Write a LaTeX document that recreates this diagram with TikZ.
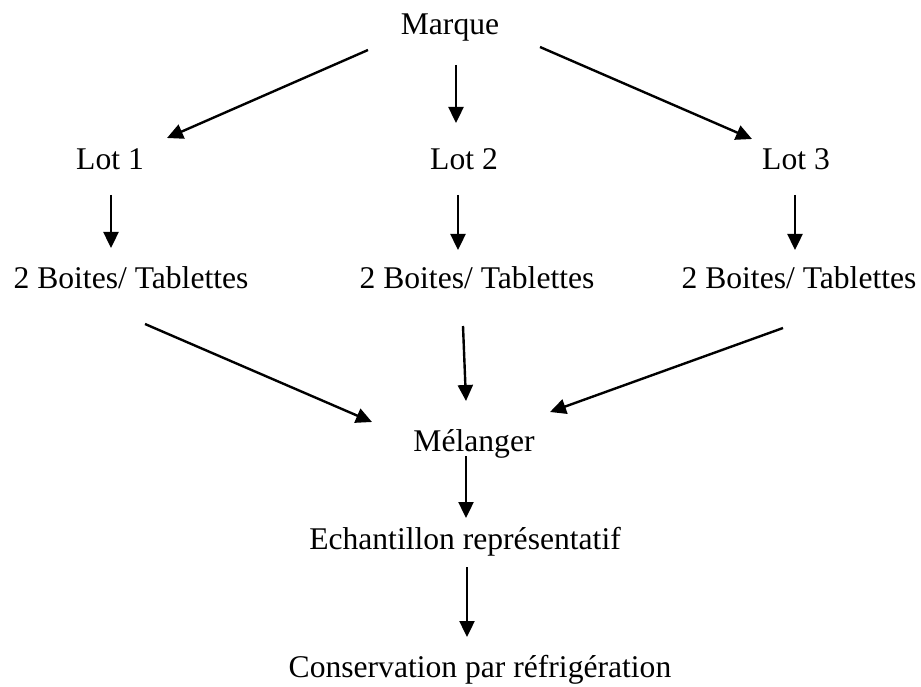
\documentclass[tikz,border=0pt]{standalone}
\usepackage{fontspec}
\setmainfont{Liberation Serif}
\usetikzlibrary{arrows.meta}
\newcommand\lblfont{\fontsize{31.6}{38}\selectfont}
\begin{document}
\begin{tikzpicture}[x=1pt,y=-1pt,
  lbl/.style={font=\lblfont, inner sep=0pt, anchor=base},
  arr/.style={line width=2.4pt, -{Triangle[length=16pt,width=15pt]}}]
\useasboundingbox[fill=white] (0,0) rectangle (921,687);
\node[lbl] (mq) at (450,35) {Marque};
\node[lbl] (l1) at (110,170) {Lot 1};
\node[lbl] (l2) at (464,170) {Lot 2};
\node[lbl] (l3) at (796,170) {Lot 3};
\node[lbl] (b1) at (131,288) {2 Boites/ Tablettes};
\node[lbl] (b2) at (477,288) {2 Boites/ Tablettes};
\node[lbl] (b3) at (799,288) {2 Boites/ Tablettes};
\node[lbl] (mel) at (474,451) {Mélanger};
\node[lbl] (ech) at (465,549) {Echantillon représentatif};
\node[lbl] (con) at (480,677) {Conservation par réfrigération};
\draw[arr] ([shift={(-82,15)}]mq.base) -- ([shift={(57,-32)}]l1.base);
\draw[arr] ([shift={(6,30)}]mq.base) -- ([shift={(-8,-47)}]l2.base);
\draw[arr] ([shift={(90,12)}]mq.base) -- ([shift={(-44,-31)}]l3.base);
\draw[arr] ([shift={(1,25)}]l1.base) -- ([shift={(-20,-40)}]b1.base);
\draw[arr] ([shift={(-6,25)}]l2.base) -- ([shift={(-19,-38)}]b2.base);
\draw[arr] ([shift={(-1,25)}]l3.base) -- ([shift={(-4,-38)}]b3.base);
\draw[arr] ([shift={(14,36)}]b1.base) -- ([shift={(-102,-29)}]mel.base);
\draw[arr] ([shift={(-14,38)}]b2.base) -- ([shift={(-8,-50)}]mel.base);
\draw[arr] ([shift={(-16,40)}]b3.base) -- ([shift={(76,-39)}]mel.base);
\draw[arr] ([shift={(-8,5)}]mel.base) -- ([shift={(1,-31)}]ech.base);
\draw[arr] ([shift={(2,18)}]ech.base) -- ([shift={(-13,-40)}]con.base);
\end{tikzpicture}
\end{document}
